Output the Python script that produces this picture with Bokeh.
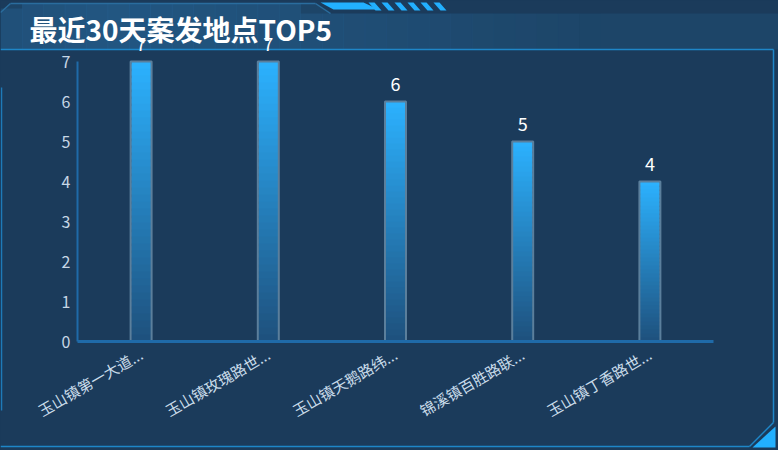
import math
import numpy as np
from bokeh.plotting import figure
from bokeh.models import Range1d, FixedTicker, PolyAnnotation, Label, GlobalInlineStyleSheet, LinearAxis
from bokeh.core.properties import value
from bokeh.embed import file_html
from bokeh.resources import INLINE

# ---- data ----
title_text = "最近30天案发地点TOP5"
places = ["玉山镇第一大道...", "玉山镇玫瑰路世...", "玉山镇天鹅路纬...", "锦溪镇百胜路联...", "玉山镇丁香路世..."]
counts = [7, 7, 6, 5, 4]
y_ticks = [0, 1, 2, 3, 4, 5, 6, 7]

# ---- style ----
W, H = 778, 450
BG = "#1b3b5b"
FONT = "Noto Sans CJK SC"
LINE = "#1e86c8"
CYAN = "#22b0ff"

# plot area in canvas pixels: x 77..713 (5 slots), y: value 0 at 341, 40 px per unit
SLOT = (713 - 77) / len(places)
X0 = 77 + SLOT / 2
PX_Y = 40.0
Y0 = 341
idx = list(range(len(places)))

p = figure(width=W, height=H,
           x_range=Range1d(-X0 / SLOT, (W - X0) / SLOT),
           y_range=Range1d(-(H - Y0) / PX_Y, Y0 / PX_Y),
           output_backend="svg", toolbar_location=None, x_axis_type=None, y_axis_type=None,
           min_border=0, min_border_left=0, min_border_right=0, min_border_top=0, min_border_bottom=0,
           background_fill_color=BG, border_fill_color=BG, outline_line_color=None)
p.stylesheets = [GlobalInlineStyleSheet(css="html, body { background: %s; margin: 0; overflow: hidden; }" % BG)]
p.grid.visible = False

# ---- decorations (canvas pixels, top-left origin) ----
def poly(xs, ys, color, alpha=1.0):
    p.add_layout(PolyAnnotation(xs=xs, ys=ys, xs_units="canvas", ys_units="canvas",
                                fill_color=color, fill_alpha=alpha, line_color=None,
                                level="underlay"))

def seg(x0, y0, x1, y1, w, color, alpha=1.0):
    dx, dy = x1 - x0, y1 - y0
    L = math.hypot(dx, dy)
    nx, ny = -dy / L * w / 2, dx / L * w / 2
    poly([x0 + nx, x1 + nx, x1 - nx, x0 - nx], [y0 + ny, y1 + ny, y1 - ny, y0 - ny], color, alpha)

# header band with soft glow on the left
poly([0, 10, 315, 330, 778, 778, 0], [12, 3, 3, 13, 13, 49, 49], "#1d4568")
strips = 28
for i in range(strips):
    x0 = i * 600 / strips
    x1 = (i + 1) * 600 / strips + 0.5
    t = (i + 0.5) / strips
    a = 0.5 * min(1.0, 0.5 + t * 2.5) * (1 - t)
    ytop = 3 if x1 < 315 else 13
    if x0 < 10:
        ytop = 8
    poly([x0, x1, x1, x0], [ytop, ytop, 49, 49], "#2a70a8", a)
# header outline
seg(0, 12, 10, 3, 1.5, "#2a6d9e")
seg(10, 3, 315, 3, 1.5, "#2a6d9e")
seg(315, 3, 330, 13, 1.5, "#2a6d9e")
seg(0, 49, 773, 49, 1.5, LINE)
# right / bottom frame
seg(773, 49, 773, 422, 1.5, LINE)
seg(773, 422, 749, 446, 1.5, LINE)
seg(749, 446, 0, 446, 1.5, LINE)
# left accent
seg(1, 87, 1, 410, 1.5, "#1e7ab8")
# corner triangle
poly([752, 775, 775], [447, 447, 426], CYAN)
# top cyan bar and stripes
poly([320, 363, 378, 333], [2, 2, 9, 9], CYAN)
for k in range(6):
    x = 368 + k * 13
    poly([x, x + 6, x + 13, x + 7], [2, 2, 10, 10], CYAN)

# ---- bars with vertical gradient ----
N = 40
top_c = np.array([44, 178, 255])
bot_c = np.array([30, 80, 124])
xs, bots, tops, cols = [], [], [], []
for i, v in zip(idx, counts):
    for k in range(N):
        f0, f1 = k / N, min((k + 1.6) / N, 1.0)
        c = bot_c + (top_c - bot_c) * ((k + 0.5) / N)
        xs.append(i)
        bots.append(v * f0)
        tops.append(v * f1)
        cols.append("#%02x%02x%02x" % tuple(int(round(t)) for t in c))
p.vbar(x=xs, bottom=bots, top=tops, width=0.155, fill_color=cols, line_color=None)
p.vbar(x=idx, top=counts, width=0.165, fill_color=None, line_color="#5b7f9c", line_width=2)

p.text(x=idx, y=counts, text=[str(c) for c in counts], text_align="center",
       text_baseline="bottom", y_offset=-11, text_color="white",
       text_font=value(FONT), text_font_size="18px")

# ---- axes drawn at fixed locations inside the frame ----
xa = LinearAxis(fixed_location=0, ticker=FixedTicker(ticks=idx),
                major_label_overrides={i: n for i, n in zip(idx, places)},
                bounds=(-0.5, len(places) - 0.5))
xa.axis_line_color = "#1f6aa8"
xa.axis_line_width = 3
xa.major_tick_line_color = None
xa.minor_tick_line_color = None
xa.major_label_orientation = math.pi / 6
xa.major_label_text_color = "#c9dcea"
xa.major_label_text_font = FONT
xa.major_label_text_font_size = "15px"
xa.major_label_standoff = 5
p.add_layout(xa, "below")

ya = LinearAxis(fixed_location=-0.5, ticker=FixedTicker(ticks=y_ticks), bounds=(0, 7))
ya.axis_line_color = "#1f6aa8"
ya.axis_line_width = 2
ya.major_tick_line_color = None
ya.minor_tick_line_color = None
ya.major_label_text_color = "#c7d7e6"
ya.major_label_text_font = FONT
ya.major_label_text_font_size = "16px"
ya.major_label_standoff = 1
p.add_layout(ya, "left")

# ---- title ----
p.add_layout(Label(x=29, y=28, x_units="canvas", y_units="canvas", text=title_text,
                   text_font=FONT, text_font_style="bold", text_font_size="28px",
                   text_color="white", text_baseline="middle"))

open("out.html", "w").write(file_html(p, INLINE))
